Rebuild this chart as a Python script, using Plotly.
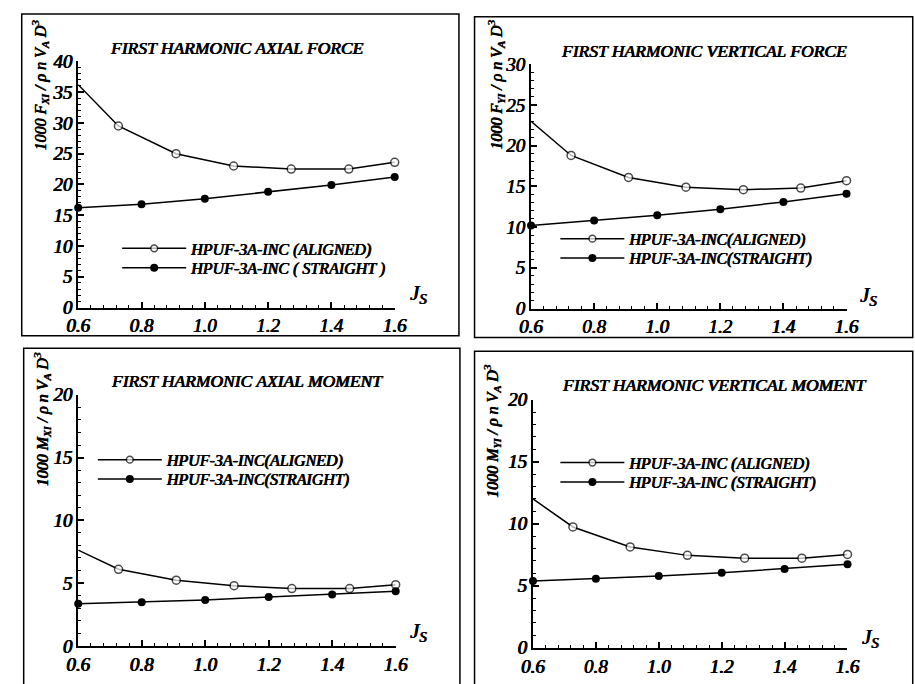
import plotly.graph_objects as go

W, H = 915, 684

# ---------------- data ----------------
J_aligned = [0.6, 0.727, 0.909, 1.091, 1.273, 1.455, 1.6]
J_straight = [0.6, 0.8, 1.0, 1.2, 1.4, 1.6]

fx_aligned = [36.2, 29.5, 25.0, 23.0, 22.5, 22.5, 23.6]
fx_straight = [16.2, 16.8, 17.7, 18.8, 19.9, 21.2]

fy_aligned = [23.0, 18.8, 16.1, 14.9, 14.6, 14.8, 15.7]
fy_straight = [10.2, 10.8, 11.45, 12.2, 13.1, 14.1]

mx_aligned = [7.63, 6.1, 5.23, 4.79, 4.56, 4.56, 4.87]
mx_straight = [3.35, 3.48, 3.66, 3.89, 4.1, 4.36]

my_aligned = [12.0, 9.74, 8.13, 7.45, 7.22, 7.22, 7.53]
my_straight = [5.38, 5.56, 5.79, 6.05, 6.36, 6.73]

titles = ["FIRST HARMONIC AXIAL FORCE", "FIRST HARMONIC VERTICAL FORCE",
          "FIRST HARMONIC AXIAL MOMENT", "FIRST HARMONIC VERTICAL MOMENT"]
ylabels = ["1000 F<sub>XI</sub> / ρ n V<sub>A</sub> D<sup>3</sup>",
           "1000 F<sub>YI</sub> / ρ n V<sub>A</sub> D<sup>3</sup>",
           "1000 M<sub>XI</sub> / ρ n V<sub>A</sub> D<sup>3</sup>",
           "1000 M<sub>YI</sub> / ρ n V<sub>A</sub> D<sup>3</sup>"]
legend_names = [
    ("HPUF-3A-INC (ALIGNED)", "HPUF-3A-INC ( STRAIGHT )"),
    ("HPUF-3A-INC(ALIGNED)", "HPUF-3A-INC(STRAIGHT)"),
    ("HPUF-3A-INC(ALIGNED)", "HPUF-3A-INC(STRAIGHT)"),
    ("HPUF-3A-INC (ALIGNED)", "HPUF-3A-INC (STRAIGHT)"),
]
y_max = [40, 30, 20, 20]
series = [(fx_aligned, fx_straight), (fy_aligned, fy_straight),
          (mx_aligned, mx_straight), (my_aligned, my_straight)]

# ---------------- layout geometry (pixels) ----------------
plot_boxes = [(68, 393, 53, 307), (533, 857, 56, 308),
              (68, 394, 397, 656), (535, 858, 402, 658)]
frames = [(10, 459, 4, 336), (475, 925, 7, 338),
          (12, 460, 349, 700), (475, 925, 352, 700)]
title_pos = [(231, 39), (711, 42), (241, 383), (721, 387)]
ylabel_pos = [(29, 8), (497, 8), (31, 351), (493, 363)]
js_pos = [(417, 293), (880, 295), (417, 642), (882, 648)]
# legend rows: (legend box left x, text start x, row1 y, row2 y)
legend_rows = [(108, 192, 246, 266), (558, 642, 236, 256),
               (83, 167, 464, 484), (558, 642, 467, 487)]

SERIF = "Liberation Serif"
BOLDEN = "0.6px 0 0 black, -0.3px 0 0 black"


def fx(x):
    return x / W


def fy(y):
    return 1 - y / H


def bfont(size):
    return dict(family=SERIF, size=size, color="black", style="italic",
                shadow=BOLDEN)


fig = go.Figure()
aligned_sizes = [0, 8, 8, 8, 8, 8, 8]

layout = dict(width=W, height=H, margin=dict(l=0, r=0, t=0, b=0),
              paper_bgcolor="white", plot_bgcolor="white", showlegend=True,
              annotations=[], shapes=[])

for i in range(4):
    k = "" if i == 0 else str(i + 1)
    xa, ya = "x" + k, "y" + k
    lgA = "legend" + ("" if i == 0 else str(2 * i + 1))
    lgB = "legend" + str(2 * i + 2)
    al, st = series[i]
    fig.add_trace(go.Scatter(
        x=J_aligned, y=al, mode="lines+markers", xaxis=xa, yaxis=ya,
        name=legend_names[i][0], legend=lgA, cliponaxis=False, showlegend=True,
        line=dict(color="black", width=1.5),
        marker=dict(size=aligned_sizes, color="white", symbol="circle",
                    line=dict(color="black", width=1.5))))
    fig.add_trace(go.Scatter(
        x=J_straight, y=st, mode="lines+markers", xaxis=xa, yaxis=ya,
        name=legend_names[i][1], legend=lgB, cliponaxis=False, showlegend=True,
        line=dict(color="black", width=1.5),
        marker=dict(size=8, color="black", symbol="circle")))

    x0, x1, y0, y1 = plot_boxes[i]
    layout["xaxis" + k] = dict(
        domain=[fx(x0), fx(x1)], anchor=ya, range=[0.6, 1.6],
        tick0=0.6, dtick=0.2, tickformat=".1f",
        showline=True, linecolor="black", linewidth=2, mirror=False,
        ticks="inside", ticklen=6, tickwidth=1.5, tickcolor="black",
        minor=dict(dtick=0.04, tick0=0.6, ticks="inside", ticklen=3,
                   tickwidth=1, tickcolor="black"),
        showgrid=False, zeroline=False, tickfont=bfont(19))
    layout["yaxis" + k] = dict(
        domain=[fy(y1), fy(y0)], anchor=xa, range=[0, y_max[i]],
        tick0=0, dtick=5,
        showline=True, linecolor="black", linewidth=2, mirror=False,
        ticks="inside", ticklen=6, tickwidth=1.5, tickcolor="black",
        minor=dict(dtick=1, ticks="inside", ticklen=3, tickwidth=1,
                   tickcolor="black"),
        showgrid=False, zeroline=False, tickfont=bfont(19))

    lx, tstart, r1, r2 = legend_rows[i]
    iw = tstart - lx - 20
    for lg, ry in ((lgA, r1), (lgB, r2)):
        layout[lg] = dict(x=fx(lx), y=fy(ry), xanchor="left",
                          yanchor="middle", bgcolor="rgba(0,0,0,0)",
                          font=bfont(16), itemwidth=iw, visible=True)

    tx, ty = title_pos[i]
    layout["annotations"].append(dict(
        x=fx(tx), y=fy(ty), xref="paper", yref="paper", text=titles[i],
        showarrow=False, xanchor="center", yanchor="middle", font=bfont(17.5)))
    ax_, ay_ = ylabel_pos[i]
    layout["annotations"].append(dict(
        x=fx(ax_), y=fy(ay_), xref="paper", yref="paper", text=ylabels[i],
        showarrow=False, xanchor="center", yanchor="top", textangle=-90,
        font=bfont(16)))
    jx, jy = js_pos[i]
    layout["annotations"].append(dict(
        x=fx(jx), y=fy(jy), xref="paper", yref="paper", text="J<sub>S</sub>",
        showarrow=False, xanchor="center", yanchor="middle", font=bfont(21)))

    fl, fr, ft, fb = frames[i]
    layout["shapes"].append(dict(
        type="rect", xref="paper", yref="paper",
        x0=fx(fl), x1=fx(fr), y0=fy(fb), y1=fy(ft),
        line=dict(color="black", width=1.5), fillcolor="rgba(0,0,0,0)"))

fig.update_layout(**layout)
fig.write_html("out.html")
